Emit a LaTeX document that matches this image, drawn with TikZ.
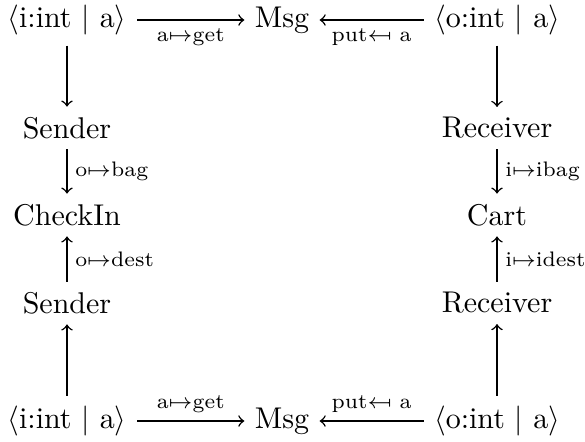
\documentclass[tikz,border=0pt]{standalone}
\usepackage{stmaryrd}
\begin{document}
\begin{tikzpicture}[x=0.3333pt,y=-0.3333pt,
  obj/.style={inner sep=3.3pt},
  lbl/.style={font=\scriptsize,inner sep=2.5pt},
  arr/.style={->,line width=0.5pt}]
\useasboundingbox (0,0) rectangle (585,441);
% nodes
\node[obj] (tl) at (67,20) {$\langle$i:int $|$ a$\rangle$};
\node[obj] (msg) at (282,20) {Msg};
\node[obj] (tr) at (497,20) {$\langle$o:int $|$ a$\rangle$};
\node[obj] (s1) at (67,128) {Sender};
\node[obj] (r1) at (497,128) {Receiver};
\node[obj] (ci) at (67,215) {CheckIn};
\node[obj] (ca) at (497,215) {Cart};
\node[obj] (s2) at (67,303) {Sender};
\node[obj] (r2) at (497,303) {Receiver};
\node[obj] (bl) at (67,421) {$\langle$i:int $|$ a$\rangle$};
\node[obj] (bm) at (282,421) {Msg};
\node[obj] (br) at (497,421) {$\langle$o:int $|$ a$\rangle$};
% connectors
\draw[arr] (tl) -- node[lbl,below]{a$\mapsto$get} (msg);
\draw[arr] (tr) -- node[lbl,below]{put$\mapsfrom$ a} (msg);
\draw[arr] (tl) -- (s1);
\draw[arr] (tr) -- (r1);
\draw[arr] (s1) -- node[lbl,right]{o$\mapsto$bag} (ci);
\draw[arr] (r1) -- node[lbl,right]{i$\mapsto$ibag} (ca);
\draw[arr] (s2) -- node[lbl,right]{o$\mapsto$dest} (ci);
\draw[arr] (r2) -- node[lbl,right]{i$\mapsto$idest} (ca);
\draw[arr] (bl) -- (s2);
\draw[arr] (br) -- (r2);
\draw[arr] (bl) -- node[lbl,above]{a$\mapsto$get} (bm);
\draw[arr] (br) -- node[lbl,above]{put$\mapsfrom$ a} (bm);
\end{tikzpicture}
\end{document}
